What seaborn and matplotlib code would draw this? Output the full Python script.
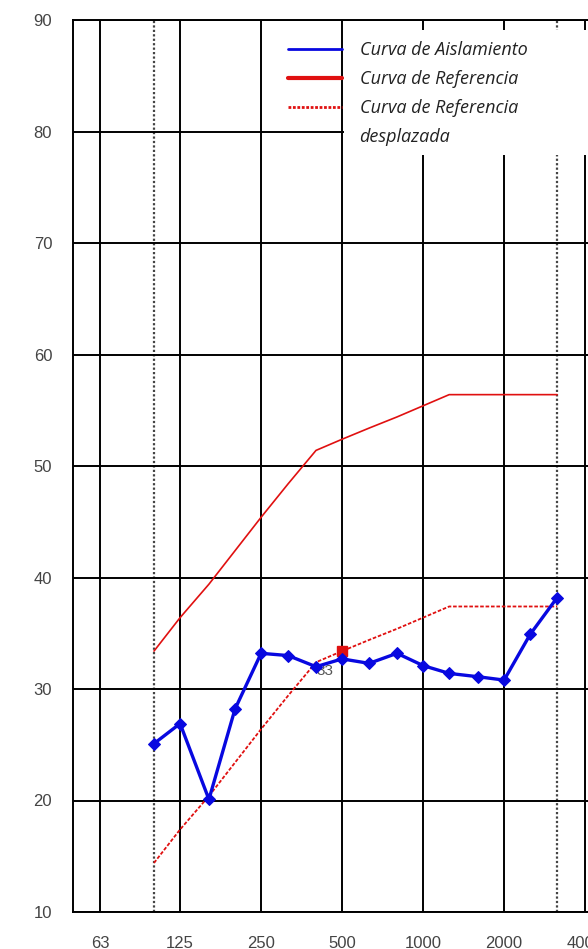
import matplotlib
matplotlib.use('Agg')
import matplotlib.pyplot as plt
import seaborn as sns
import pandas as pd
from matplotlib.lines import Line2D
from matplotlib.patches import Rectangle

# Third-octave band data
freqs = [100, 125, 160, 200, 250, 315, 400, 500, 630, 800, 1000, 1250, 1600, 2000, 2500, 3150]
aislamiento = [25.1, 26.9, 20.1, 28.2, 33.2, 33.0, 32.0, 32.7, 32.3, 33.2, 32.1, 31.4, 31.1, 30.8, 34.9, 38.2]
referencia = [33.4, 36.4, 39.4, 42.4, 45.4, 48.4, 51.4, 52.4, 53.4, 54.4, 55.4, 56.4, 56.4, 56.4, 56.4, 56.4]
desplazada = [14.4, 17.4, 20.4, 23.4, 26.4, 29.4, 32.4, 33.4, 34.4, 35.4, 36.4, 37.4, 37.4, 37.4, 37.4, 37.4]
rw_freq = 500
rw_value = 33
rw_marker_y = 33.4

x_ticks = [63, 125, 250, 500, 1000, 2000, 4000]
x_labels = ['63', '125', '250', '500', '1000', '2000', '4000']
y_ticks = [10, 20, 30, 40, 50, 60, 70, 80, 90]
dotted_lines = [100, 3150]

legend_labels = ['Curva de Aislamiento', 'Curva de Referencia', 'Curva de Referencia', 'desplazada']

df = pd.DataFrame({'freq': freqs, 'aisl': aislamiento, 'ref': referencia, 'desp': desplazada})

sns.set_style('white')
plt.rcParams['font.family'] = ['Liberation Sans', 'DejaVu Sans']

W, H = 588, 949
fig = plt.figure(figsize=(W / 100, H / 100), dpi=100)
ax = fig.add_axes([73 / W, 37 / H, (610 - 73) / W, 892 / H])
ax.set_xscale('log')
ax.set_xlim(50, 4950)
ax.set_ylim(10, 90)

# grid
for f in x_ticks:
    ax.axvline(f, color='black', lw=1.4, zorder=1)
for f in dotted_lines:
    ax.axvline(f, color='#444444', lw=1.6, ls=(0, (1, 1)), zorder=1)
for v in y_ticks:
    ax.axhline(v, color='black', lw=1.4, zorder=1)

# white box behind legend text
ax.add_patch(Rectangle((344 / W, 1 - 155 / H), (600 - 344) / W, (155 - 30) / H,
                       transform=fig.transFigure, facecolor='white', edgecolor='none', zorder=3))

sns.lineplot(data=df, x='freq', y='ref', ax=ax, color='#e01010', lw=1.2, zorder=4)
sns.lineplot(data=df, x='freq', y='desp', ax=ax, color='#e01010', lw=1.3, ls=(0, (2, 1)), zorder=4)
sns.lineplot(data=df, x='freq', y='aisl', ax=ax, color='#0808e0', lw=2.4, marker='D',
             markersize=6.5, markeredgecolor='#0808e0', zorder=5)
ax.plot([rw_freq], [rw_marker_y], marker='s', color='#e01010', markersize=7, ls='none', zorder=4)
ax.text(430, 31.6, str(rw_value), color='#555555', fontsize=11, ha='center', va='center', zorder=4.5)

ax.set_xticks(x_ticks)
ax.set_xticklabels(x_labels)
ax.xaxis.set_minor_locator(matplotlib.ticker.NullLocator())
ax.set_yticks(y_ticks)
ax.tick_params(axis='both', length=0, labelsize=12, labelcolor='#444444')
ax.tick_params(axis='y', pad=15)
ax.tick_params(axis='x', pad=17)
ax.set_xlabel('')
ax.set_ylabel('')
for s in ax.spines.values():
    s.set_color('black')
    s.set_linewidth(1.4)

handles = [Line2D([], [], color='#0808e0', lw=2),
           Line2D([], [], color='#e01010', lw=3),
           Line2D([], [], color='#e01010', lw=2, ls=(0, (1, 0.6))),
           Line2D([], [], color='none')]
leg = fig.legend(handles, legend_labels, loc='upper left', bbox_to_anchor=(272 / W, 1 - 25 / H),
                 frameon=False, handlelength=3.0, handletextpad=0.95, labelspacing=0.6,
                 prop={'family': 'Open Sans', 'style': 'italic', 'size': 13})
for t in leg.get_texts():
    t.set_color('#222222')
leg.set_zorder(6)

fig.savefig('out.png', dpi=100)
